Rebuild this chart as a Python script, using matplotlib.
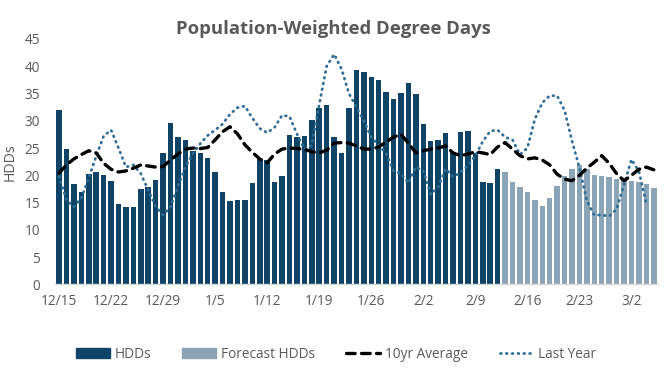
import matplotlib
matplotlib.use("Agg")
import matplotlib.pyplot as plt
import numpy as np
from matplotlib.patches import Patch
from matplotlib.lines import Line2D

plt.rcParams['font.family'] = ['Open Sans', 'DejaVu Sans']

tick_labels = ["12/15", "12/22", "12/29", "1/5", "1/12", "1/19", "1/26",
               "2/2", "2/9", "2/16", "2/23", "3/2"]

hdd_actual = [32.0, 24.8, 18.4, 16.9, 20.2, 20.6, 20.1, 18.9, 14.7, 14.2,
              14.2, 17.5, 17.9, 19.1, 24.1, 29.6, 27.0, 26.5, 24.5, 24.1,
              23.2, 20.6, 16.9, 15.3, 15.5, 15.5, 18.6, 23.0, 22.8, 18.8,
              19.9, 27.4, 27.0, 27.2, 30.2, 32.4, 32.9, 27.0, 24.1, 32.4,
              39.3, 39.0, 38.1, 37.5, 35.3, 34.0, 35.1, 36.9, 34.9, 29.4,
              26.3, 26.5, 27.8, 24.3, 27.9, 28.1, 24.1, 18.8, 18.6, 21.2]

hdd_forecast = [20.6, 18.8, 17.9, 16.9, 15.5, 14.4, 15.8, 18.0, 19.9, 21.2,
                21.9, 21.1, 20.0, 19.9, 19.7, 19.3, 19.1, 18.9, 18.8, 18.4,
                17.7]

avg_10yr = [20.4, 21.9, 23.0, 23.8, 24.5, 24.1, 22.2, 21.1, 20.6, 20.8,
            21.3, 21.9, 21.7, 21.5, 21.6, 22.8, 23.9, 24.8, 25.0, 24.9,
            25.1, 26.5, 28.0, 28.9, 27.6, 25.6, 24.2, 23.0, 22.3, 23.9,
            24.8, 25.0, 24.9, 24.8, 24.3, 24.1, 24.6, 25.9, 26.0, 25.9,
            25.4, 24.8, 24.8, 25.2, 26.1, 27.0, 27.5, 25.9, 24.1, 24.5,
            24.8, 25.0, 25.4, 24.1, 23.6, 23.9, 24.3, 24.1, 23.8, 25.2,
            26.0, 24.8, 23.6, 23.0, 23.2, 22.8, 21.9, 20.2, 19.3, 19.0,
            20.0, 21.3, 22.4, 23.6, 22.2, 20.3, 19.0, 20.0, 21.1, 21.5,
            21.0]

last_year = [19.8, 15.5, 14.2, 15.8, 19.5, 23.5, 27.2, 28.3, 25.0, 21.5,
             21.9, 20.3, 17.3, 14.3, 12.7, 14.2, 18.0, 21.5, 24.0, 25.8,
             27.3, 28.3, 29.4, 31.2, 32.4, 32.7, 30.5, 28.6, 27.8, 28.8,
             31.0, 30.8, 27.6, 24.8, 25.5, 33.0, 40.0, 42.2, 39.5, 35.0,
             32.5, 30.0, 27.0, 25.5, 24.0, 20.8, 20.3, 18.6, 21.5, 20.8,
             16.5, 17.8, 21.2, 19.7, 20.5, 21.8, 23.6, 26.2, 28.1, 28.3,
             27.0, 26.5, 23.8, 25.0, 30.3, 33.3, 34.6, 34.6, 31.9, 26.3,
             21.4, 15.3, 12.7, 12.7, 12.5, 13.8, 18.3, 22.9, 20.7, 14.8,
             np.nan]

c_actual = "#0f4466"
c_fore = "#8ba5b6"
c_last = "#2f6e96"
c_text = "#595959"

W, H = 667, 373
fig = plt.figure(figsize=(W / 100, H / 100), dpi=100)
ax_w = 657.5 - 55.3
ax = fig.add_axes([55.3 / W, 88.7 / H, ax_w / W, (284.3 - 39) / H])

n_act = len(hdd_actual)
x_act = np.arange(n_act)
x_fore = np.arange(n_act, n_act + len(hdd_forecast))
x_all = np.arange(len(avg_10yr))

ax.bar(x_act, hdd_actual, width=0.74, color=c_actual, zorder=2)
ax.bar(x_fore, hdd_forecast, width=0.74, color=c_fore, zorder=2)
ax.plot(x_all, avg_10yr, color="black", lw=2.4, linestyle=(0, (2.6, 1.9)),
        dash_capstyle="round", zorder=4)
ax.plot(x_all, last_year, color=c_last, lw=2.0, linestyle=(0, (0.3, 1.8)),
        dash_capstyle="round", zorder=3)

ax.set_xlim(-0.5, len(avg_10yr) - 0.5)
ax.set_ylim(0, 45)
ax.set_yticks(np.arange(0, 46, 5))
ax.set_xticks(np.arange(0, len(avg_10yr), 7)[:len(tick_labels)])
ax.set_xticklabels(tick_labels)

for s in ["top", "right", "left"]:
    ax.spines[s].set_visible(False)
ax.spines["bottom"].set_color("#d9d9d9")
ax.spines["bottom"].set_linewidth(1.0)
ax.tick_params(axis="both", length=0, labelsize=9.8, colors=c_text)
ax.tick_params(axis="y", pad=11)
ax.tick_params(axis="x", pad=7)

ax.set_ylabel("HDDs", fontsize=10.2, color=c_text)
ax.yaxis.set_label_coords(-38 / ax_w, 0.5)

fig.text(333 / W, 1 - 29 / H, "Population-Weighted Degree Days",
         ha="center", va="center", fontsize=13.3, fontweight="bold",
         color=c_text)

handles = [Patch(color=c_actual), Patch(color=c_fore),
           Line2D([], [], color="black", lw=2.4, linestyle=(0, (2.6, 1.9)),
                  dash_capstyle="round"),
           Line2D([], [], color=c_last, lw=2.0, linestyle=(0, (0.3, 1.8)),
                  dash_capstyle="round")]
labels = ["HDDs", "Forecast HDDs", "10yr Average", "Last Year"]
fig.legend(handles, labels, loc="center", bbox_to_anchor=(336 / W, 1 - 354 / H),
           ncol=4, frameon=False, fontsize=9.8, handlelength=2.5,
           handletextpad=0.35, columnspacing=2.3, labelcolor=c_text)

fig.savefig("out.png", dpi=100)
